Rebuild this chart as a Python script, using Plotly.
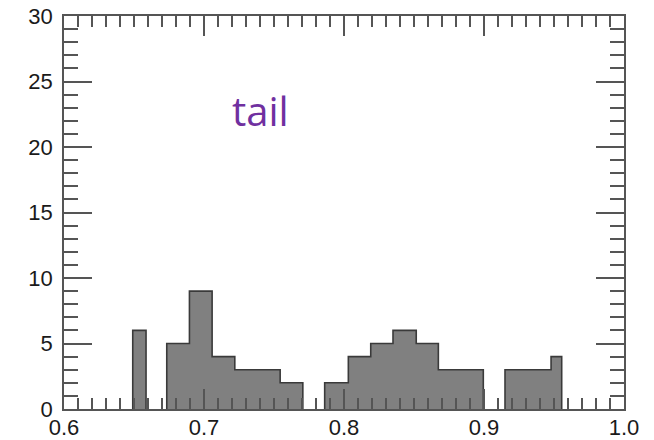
import plotly.graph_objects as go

# Histogram bins (left edge, right edge, count)
bin_lo = [0.6491, 0.6734, 0.6896, 0.7058, 0.7220, 0.7382, 0.7544,
          0.7862, 0.8031, 0.8191, 0.8350, 0.8516, 0.8674, 0.8835,
          0.9150, 0.9315, 0.9479]
bin_hi = [0.6586, 0.6896, 0.7058, 0.7220, 0.7382, 0.7544, 0.7706,
          0.8031, 0.8191, 0.8350, 0.8516, 0.8674, 0.8835, 0.8995,
          0.9315, 0.9479, 0.9555]
counts = [6, 5, 9, 4, 3, 3, 2,
          2, 4, 5, 6, 5, 3, 3,
          3, 3, 4]

x_ticks = [0.6, 0.7, 0.8, 0.9, 1.0]
x_ticklabels = ["0.6", "0.7", "0.8", "0.9", "1.0"]
y_ticks = [0, 5, 10, 15, 20, 25, 30]

label_text = "tail"

centers = [(a + b) / 2 for a, b in zip(bin_lo, bin_hi)]
widths = [b - a for a, b in zip(bin_lo, bin_hi)]

# step outline
xs, ys = [], []
for i in range(len(counts)):
    if i == 0 or bin_lo[i] != bin_hi[i - 1]:
        if i > 0:
            xs += [bin_hi[i - 1], None]
            ys += [0, None]
        xs += [bin_lo[i]]
        ys += [0]
    xs += [bin_lo[i], bin_hi[i]]
    ys += [counts[i], counts[i]]
xs += [bin_hi[-1]]
ys += [0]

fig = go.Figure()
fig.add_trace(go.Bar(x=centers, y=counts, width=widths,
                     marker=dict(color="#808080", line=dict(width=0)),
                     showlegend=False, hoverinfo="skip"))
fig.add_trace(go.Scatter(x=xs, y=ys, mode="lines",
                         line=dict(color="#3a3a3a", width=1.6),
                         showlegend=False, hoverinfo="skip"))

fig.add_annotation(x=0.7404, y=22.8, xref="x", yref="y", text=label_text,
                   showarrow=False, xanchor="center", yanchor="middle",
                   font=dict(family="Open Sans", size=40, color="#7030A0"))

axis_common = dict(showline=True, linecolor="#555555", linewidth=1.5,
                   mirror="ticks", ticks="inside", tickcolor="#555555",
                   tickwidth=1.5, showgrid=False, zeroline=False,
                   automargin=False,
                   tickfont=dict(family="Liberation Sans", size=22, color="#1a1a1a"))

fig.update_layout(
    width=654, height=440,
    margin=dict(l=64, r=30, t=16, b=31),
    paper_bgcolor="white", plot_bgcolor="white",
    bargap=0,
    xaxis=dict(range=[0.6, 1.0], tickvals=x_ticks, ticktext=x_ticklabels,
               ticklen=20, ticklabelstandoff=-2,
               minor=dict(dtick=0.01, ticks="inside", ticklen=11,
                          tickcolor="#555555", tickwidth=1.5),
               **axis_common),
    yaxis=dict(range=[0, 30], tickvals=y_ticks, ticklen=28,
               ticklabelstandoff=5,
               minor=dict(dtick=1, ticks="inside", ticklen=14,
                          tickcolor="#555555", tickwidth=1.5),
               **axis_common),
)

fig.write_html("out.html")
